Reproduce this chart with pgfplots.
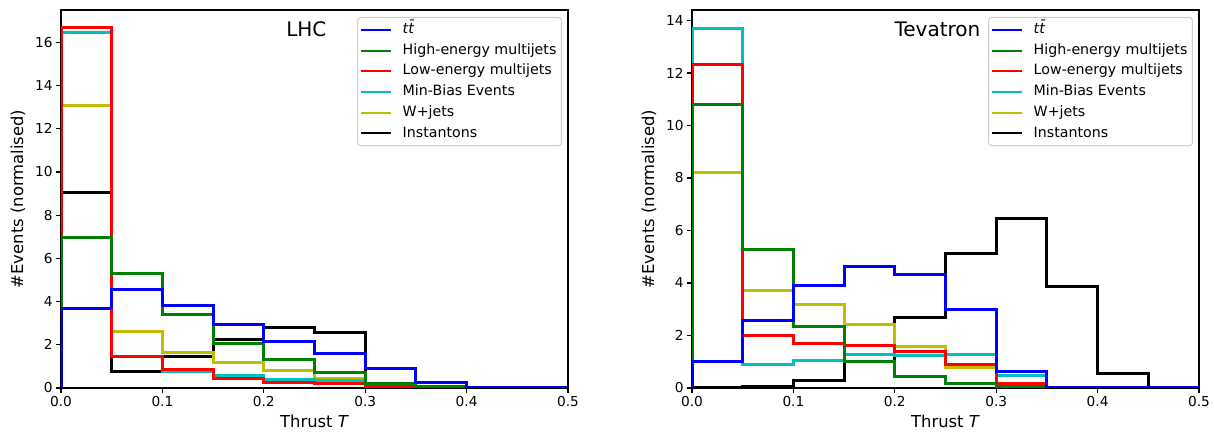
\documentclass[border=0pt]{standalone}
\usepackage{pgfplots}
\pgfplotsset{compat=1.18}
\usepackage{pgfplotstable}
\usepackage{fontspec}
\setmainfont{DejaVu Sans}
\definecolor{mb}{rgb}{0,0,1}
\definecolor{mg}{rgb}{0,0.5,0}
\definecolor{mr}{rgb}{1,0,0}
\definecolor{mc}{rgb}{0,0.75,0.75}
\definecolor{my}{rgb}{0.75,0.75,0}

% LHC: bin left edges, values (first row starts the step at zero)
\pgfplotstableread{
x    b     g     r      c      y      k
0    0     0     0      0      0      0
0    3.70  6.98  16.67  16.48  13.07  9.07
0.05 4.55  5.29  1.48   1.48   2.62   0.77
0.10 3.81  3.38  0.85   0.75   1.65   1.44
0.15 2.96  2.08  0.43   0.59   1.16   2.24
0.20 2.16  1.31  0.26   0.39   0.80   2.81
0.25 1.59  0.73  0.23   0.35   0.46   2.58
0.30 0.91  0.20  0.08   0.10   0.10   0.10
0.35 0.26  0.05  0.02   0.02   0.03   0.02
0.40 0.03  0     0      0      0      0
0.45 0.02  0     0      0      0      0
0.50 0     0     0      0      0      0
}\lhc

% Tevatron
\pgfplotstableread{
x    b     g      r      c      y     k
0    0     0      0      0      0     0
0    1.02  10.79  12.31  13.71  8.22  0.03
0.05 2.58  5.27   2.00   0.91   3.72  0.06
0.10 3.91  2.35   1.71   1.05   3.17  0.28
0.15 4.63  1.02   1.61   1.26   2.41  1.02
0.20 4.31  0.42   1.40   1.25   1.59  2.70
0.25 2.98  0.16   0.89   1.26   0.79  5.14
0.30 0.61  0.06   0.16   0.47   0.47  6.45
0.35 0     0      0      0      0     3.87
0.40 0     0      0      0      0     0.57
0.45 0     0      0      0      0     0
0.50 0     0     0      0      0      0
}\tev

\pgfplotsset{
  hist/.style={const plot, line width=3pt, no marks, line join=miter},
  common/.style={
    scale only axis, width=507pt, height=378pt,
    anchor=south west,
    xmin=0, xmax=0.5, ymin=0,
    xtick={0,0.1,0.2,0.3,0.4,0.5},
    xticklabel style={/pgf/number format/.cd,fixed,fixed zerofill,precision=1},
    scaled x ticks=false,
    /pgf/number format/assume math mode=true,
    xtick pos=left, ytick pos=left,
    tick align=outside, major tick length=4.8pt,
    tick style={black, line width=1.1pt},
    axis line style={line width=1.1pt},
    every tick label/.append style={font=\fontsize{13.7}{16}\selectfont},
    xlabel={Thrust \textit{T}},
    ylabel={\#Events (normalised)},
    label style={font=\fontsize{16.4}{19}\selectfont},
    xlabel style={at={(axis description cs:0.5,-0.0873)}, anchor=center},
    ylabel style={at={(axis description cs:-0.0848,0.5)}, anchor=center},
    legend cell align=left,
    reverse legend,
    legend image code/.code={\draw[#1, line width=2pt] (0pt,0pt) -- (30pt,0pt);},
    legend style={at={(axis description cs:0.988,0.9815)}, anchor=north east,
      draw=black!20, line width=1pt, rounded corners=3pt, fill=white, fill opacity=0.8, text opacity=1,
      inner sep=2pt, font=\fontsize{14.2}{16}\selectfont,
      nodes={font=\fontsize{14.2}{16}\selectfont, text height=10.5pt, text depth=3pt, inner ysep=3.6pt, inner xsep=3pt},
      /tikz/every odd column/.append style={column sep=8pt}},
  }
}

\begin{document}
\begin{tikzpicture}
\begin{axis}[common, at={(0pt,0pt)}, ymax=17.5, ytick={0,2,4,6,8,10,12,14,16}]
\addplot[hist, black] table[x=x,y=k]{\lhc};
\addlegendentry{Instantons}
\addplot[hist, my] table[x=x,y=y]{\lhc};
\addlegendentry{W+jets}
\addplot[hist, mc] table[x=x,y=c]{\lhc};
\addlegendentry{Min-Bias Events}
\addplot[hist, mr] table[x=x,y=r]{\lhc};
\addlegendentry{Low-energy multijets}
\addplot[hist, mg] table[x=x,y=g]{\lhc};
\addlegendentry{High-energy multijets}
\addplot[hist, mb] table[x=x,y=b]{\lhc};
\addlegendentry{{\itshape t\=t}}
\node[font=\fontsize{20}{23}\selectfont] at (rel axis cs:0.484,0.95) {LHC};
\end{axis}
\begin{axis}[common, at={(631pt,0pt)}, ymax=14.4, ytick={0,2,4,6,8,10,12,14}]
\addplot[hist, black] table[x=x,y=k]{\tev};
\addlegendentry{Instantons}
\addplot[hist, my] table[x=x,y=y]{\tev};
\addlegendentry{W+jets}
\addplot[hist, mc] table[x=x,y=c]{\tev};
\addlegendentry{Min-Bias Events}
\addplot[hist, mr] table[x=x,y=r]{\tev};
\addlegendentry{Low-energy multijets}
\addplot[hist, mg] table[x=x,y=g]{\tev};
\addlegendentry{High-energy multijets}
\addplot[hist, mb] table[x=x,y=b]{\tev};
\addlegendentry{{\itshape t\=t}}
\node[font=\fontsize{20}{23}\selectfont] at (rel axis cs:0.484,0.95) {Tevatron};
\end{axis}
\pgfresetboundingbox
\path (-61pt,-44.7pt) rectangle (1153pt,388pt);
\end{tikzpicture}
\end{document}
